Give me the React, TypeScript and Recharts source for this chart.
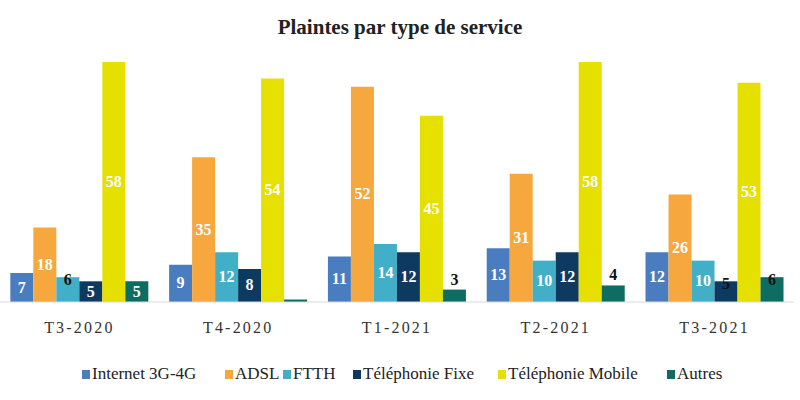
import { Bar, BarChart, XAxis, YAxis, LabelList } from "recharts";

const periods = ["T3-2020", "T4-2020", "T1-2021", "T2-2021", "T3-2021"];
const internet = [7, 9, 11, 13, 12];
const adsl = [18, 35, 52, 31, 26];
const ftth = [6, 12, 14, 10, 10];
const fixe = [5, 8, 12, 12, 5];
const mobile = [58, 54, 45, 58, 53];
const autres = [5, 0.6, 3, 4, 6];
const autresLabels = ["5", "", "3", "4", "6"];

const data = periods.map((p, i) => ({
  period: p,
  internet: internet[i],
  adsl: adsl[i],
  ftth: ftth[i],
  fixe: fixe[i],
  mobile: mobile[i],
  autres: autres[i],
}));

const series = [
  { key: "internet", name: "Internet 3G-4G", color: "#4a7cc0" },
  { key: "adsl", name: "ADSL", color: "#f6a83e" },
  { key: "ftth", name: "FTTH", color: "#42afc8" },
  { key: "fixe", name: "Téléphonie Fixe", color: "#0e3a62" },
  { key: "mobile", name: "Téléphonie Mobile", color: "#e6e000" },
  { key: "autres", name: "Autres", color: "#0d6d62" },
];

// legend item left edges, as in the original layout
const legendX = [82, 225, 283, 353, 498, 667];

// dark labels: "top" sits on the bar's top edge, "above" floats over it
const darkTop = new Set(["ftth-0", "fixe-4", "autres-4"]);
const darkAbove = new Set(["autres-2", "autres-3"]);

const serif = "'Liberation Serif', 'Times New Roman', serif";

function makeLabel(key: string) {
  return (props: any) => {
    const { x, y, width, height, index, value } = props;
    const text = key === "autres" ? autresLabels[index] : String(value);
    if (!text) return null;
    const id = `${key}-${index}`;
    let cy = y + height / 2 + 5;
    let fill = "#fff";
    if (darkTop.has(id)) {
      cy = y + 8;
      fill = "#111";
    } else if (darkAbove.has(id)) {
      cy = y - 5;
      fill = "#111";
    }
    return (
      <text
        x={x + width / 2}
        y={cy}
        textAnchor="middle"
        fontFamily={serif}
        fontWeight="bold"
        fontSize={16}
        fill={fill}
      >
        {text}
      </text>
    );
  };
}

export default function App() {
  return (
    <div
      style={{
        position: "absolute",
        left: 0,
        top: 0,
        width: 800,
        height: 400,
        background: "#fff",
      }}
    >
      <div
        style={{
          position: "absolute",
          top: 15,
          width: 800,
          textAlign: "center",
          fontFamily: serif,
          fontWeight: "bold",
          fontSize: 21,
          color: "#222",
        }}
      >
        Plaintes par type de service
      </div>
      <BarChart
        width={800}
        height={400}
        data={data}
        margin={{ top: 62, right: 6, left: 0, bottom: 58 }}
        barCategoryGap="6.5%"
        barGap={0}
      >
        <XAxis
          dataKey="period"
          tickLine={false}
          axisLine={{ stroke: "#d9d9d9" }}
          tickMargin={14}
          height={40}
          tick={{ fontFamily: serif, fontSize: 16, fill: "#333", letterSpacing: 2.2 }}
        />
        <YAxis hide domain={[0, 58]} />
        {series.map((s) => (
          <Bar
            key={s.key}
            dataKey={s.key}
            name={s.name}
            fill={s.color}
            isAnimationActive={false}
          >
            <LabelList dataKey={s.key} content={makeLabel(s.key)} />
          </Bar>
        ))}
      </BarChart>
      {series.map((s, i) => (
        <div
          key={s.key}
          style={{
            position: "absolute",
            top: 364,
            left: legendX[i],
            display: "flex",
            alignItems: "center",
            fontFamily: serif,
            fontSize: 17,
            color: "#222",
            whiteSpace: "nowrap",
          }}
        >
          <span
            style={{
              display: "inline-block",
              width: 8,
              height: 9,
              background: s.color,
              marginRight: 2,
            }}
          />
          {s.name}
        </div>
      ))}
    </div>
  );
}
